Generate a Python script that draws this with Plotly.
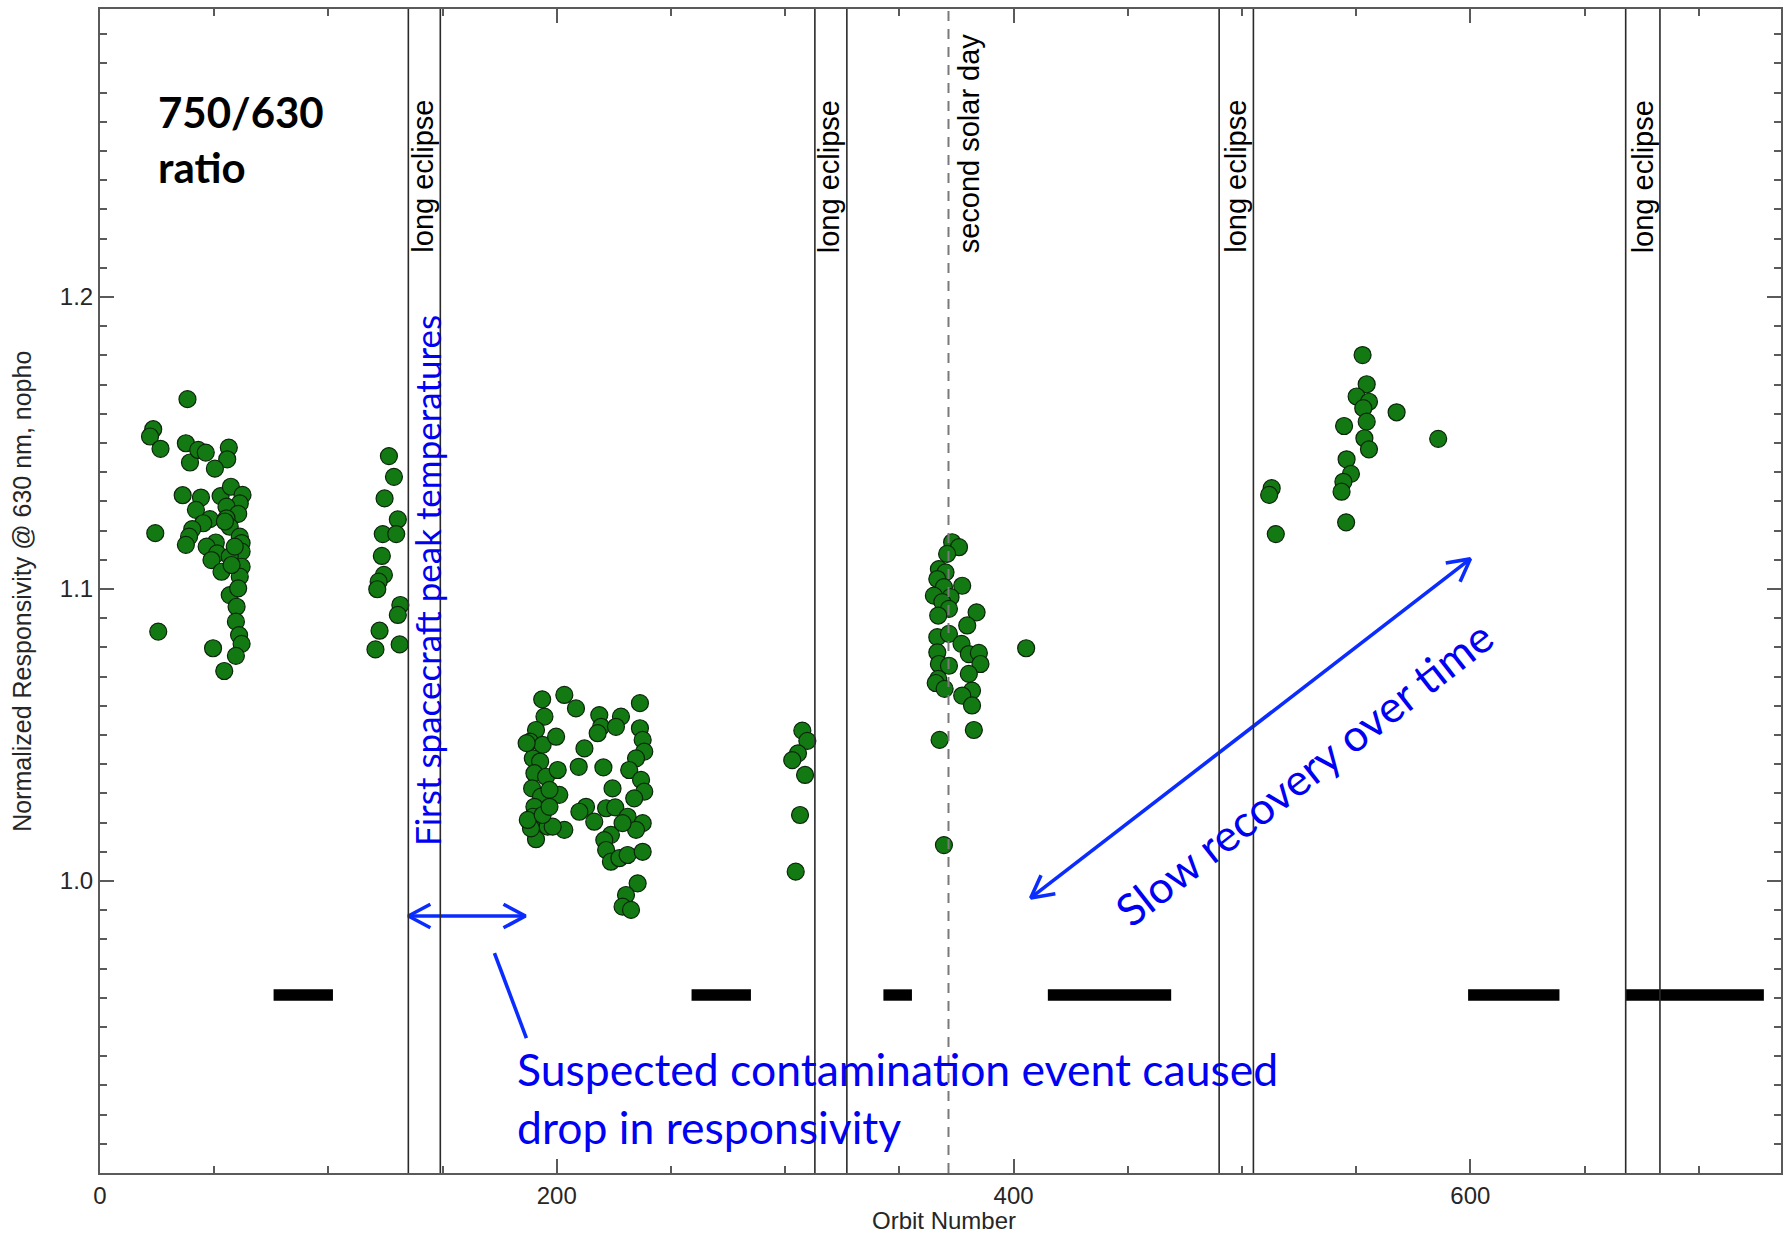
import math
import plotly.graph_objects as go

# Orbit number and normalized 750/630 responsivity ratio for each measurement
orbit = [
    38.3, 23.3, 21.9, 26.5, 37.6, 39.4, 43.0, 46.3, 56.4, 55.7, 50.3, 36.2, 44.2, 42.0,
    48.1, 45.2, 40.4, 39.0, 37.6, 24.2, 52.8, 57.3, 62.4, 61.2, 55.4, 60.5, 55.4, 56.8,
    61.2, 62.0, 62.0, 50.7, 46.7, 51.3, 48.8, 56.8, 53.2, 62.0, 61.2, 57.6, 56.8, 59.8,
    59.5, 60.9, 62.0, 59.5, 54.4, 49.5, 25.5, 60.5, 54.7, 59.0,
    126.5, 128.7, 124.6, 130.4, 123.8, 129.7, 123.4, 124.3, 122.0, 121.4, 131.5, 130.4,
    122.4, 120.6, 131.2,
    193.6, 194.6, 190.9, 188.3, 193.8, 189.5, 192.7, 190.2, 195.3, 189.2, 193.1, 190.2,
    189.5, 191.6, 190.9, 196.0, 199.7, 200.4, 201.1, 196.8, 203.3, 188.7, 198.2, 203.3,
    208.4, 212.1, 209.6, 218.6, 219.4, 217.9, 228.1, 225.9, 220.4, 224.4, 212.8, 209.9,
    216.4, 221.6, 225.6, 223.7, 220.8, 221.6, 223.7, 227.4, 231.0, 237.6, 235.4, 230.3,
    228.8, 232.5, 236.4, 236.4, 237.6, 238.3, 234.7, 231.7, 236.9, 238.3, 233.9, 231.0,
    237.6, 234.7, 228.8, 186.8, 187.3, 193.8, 196.8,
    307.5, 309.7, 305.6, 303.1, 308.7, 306.5, 304.6,
    373.1, 376.1, 370.9, 367.3, 370.2, 366.6, 377.5, 369.5, 365.1, 372.4, 368.8, 371.7,
    367.0, 383.8, 379.7, 366.6, 371.7, 377.2, 366.6, 380.4, 384.8, 385.5, 367.3, 371.7,
    380.4, 367.0, 365.9, 369.8, 381.8, 377.5, 381.8, 382.6, 367.6, 369.5, 405.5,
    552.8, 554.6, 550.2, 555.6, 553.1, 567.7, 554.6, 544.7, 553.6, 555.6, 585.9, 545.8,
    547.7, 544.4, 543.6, 545.6, 513.0, 511.9, 514.8,
]
responsivity = [
    1.1650, 1.1547, 1.1522, 1.1480, 1.1499, 1.1433, 1.1476, 1.1467, 1.1484, 1.1444, 1.1412,
    1.1321, 1.1313, 1.1271, 1.1239, 1.1225, 1.1205, 1.1179, 1.1151, 1.1191, 1.1318, 1.1350,
    1.1322, 1.1293, 1.1282, 1.1257, 1.1242, 1.1213, 1.1179, 1.1157, 1.1128, 1.1159, 1.1145,
    1.1122, 1.1099, 1.1111, 1.1059, 1.1076, 1.1042, 1.1082, 1.0979, 1.0939, 1.0888, 1.0842,
    1.0812, 1.0771, 1.0719, 1.0797, 1.0854, 1.1002, 1.1231, 1.1145,
    1.1455, 1.1384, 1.1310, 1.1238, 1.1188, 1.1188, 1.1113, 1.1048, 1.1025, 1.0999, 1.0945,
    1.0911, 1.0857, 1.0793, 1.0810,
    1.0622, 1.0563, 1.0517, 1.0477, 1.0466, 1.0420, 1.0409, 1.0369, 1.0357, 1.0317, 1.0289,
    1.0254, 1.0220, 1.0186, 1.0143, 1.0186, 1.0494, 1.0380, 1.0295, 1.0312, 1.0175, 1.0180,
    1.0186, 1.0637, 1.0591, 1.0454, 1.0391, 1.0568, 1.0528, 1.0506, 1.0563, 1.0528, 1.0389,
    1.0317, 1.0254, 1.0237, 1.0203, 1.0249, 1.0252, 1.0158, 1.0140, 1.0106, 1.0066, 1.0078,
    1.0089, 1.0100, 0.9992, 0.9952, 0.9912, 0.9901, 1.0609, 1.0523, 1.0483, 1.0443, 1.0420,
    1.0380, 1.0346, 1.0306, 1.0283, 1.0220, 1.0198, 1.0175, 1.0198, 1.0472, 1.0209, 1.0226,
    1.0254,
    1.0515, 1.0480, 1.0437, 1.0414, 1.0363, 1.0226, 1.0032,
    1.1160, 1.1143, 1.1120, 1.1068, 1.1057, 1.1034, 1.1011, 1.1006, 1.0977, 1.0972, 1.0955,
    1.0932, 1.0909, 1.0920, 1.0875, 1.0835, 1.0846, 1.0812, 1.0783, 1.0777, 1.0781, 1.0743,
    1.0743, 1.0737, 1.0709, 1.0692, 1.0678, 1.0658, 1.0652, 1.0635, 1.0601, 1.0517, 1.0483,
    1.0123, 1.0797,
    1.1801, 1.1701, 1.1659, 1.1641, 1.1619, 1.1605, 1.1573, 1.1558, 1.1516, 1.1478, 1.1514,
    1.1444, 1.1394, 1.1367, 1.1333, 1.1228, 1.1345, 1.1322, 1.1188,
]

# Long-eclipse periods (orbit at start / end) and the second solar day
eclipse_start = [135, 313, 490, 668]
eclipse_end = [149, 327, 505, 683]
solar_day_2 = 371.5

# Orbit spans with no observations, drawn as bars
gap_start = [76, 259, 343, 415, 599, 668]
gap_end = [102, 285, 355.5, 469, 639, 728.5]
gap_low, gap_high = 0.9590, 0.9629

x_ticks = [0, 200, 400, 600]
x_tick_text = ["0", "200", "400", "600"]
y_ticks = [1.0, 1.1, 1.2]
y_tick_text = ["1.0", "1.1", "1.2"]

# Annotation arrows: (start, end) in data coordinates
span_arrow = [(135.0, 0.988), (186.3, 0.988)]
pointer_line = [(172.7, 0.9753), (186.7, 0.9462)]
recovery_arrow = [(407.5, 0.9942), (600.0, 1.1103)]

X_RANGE = [0, 736]
Y_RANGE = [0.9, 1.2986]
W, H = 1783, 1236
MARGIN = dict(l=100, r=0, t=9, b=63)

PX_X = (W - MARGIN["l"] - MARGIN["r"]) / (X_RANGE[1] - X_RANGE[0])
PX_Y = (H - MARGIN["t"] - MARGIN["b"]) / (Y_RANGE[1] - Y_RANGE[0])

AXIS = "#5a5a5a"
BLUE_TEXT = "#0000f2"
BLUE_LINE = "#0a2cff"
SANS = "Liberation Sans, Arial, sans-serif"
TICK_FONT = dict(family=SANS, size=24, color="#262626")
NOTE_FONT = "Lato, Open Sans, sans-serif"
LABEL_BASE = 1.2144  # where the vertical event labels start


def chevron(tip, tail, arm=25, spread=28):
    """Open V arrowhead at `tip`, opening back toward `tail`."""
    dx = (tail[0] - tip[0]) * PX_X
    dy = (tail[1] - tip[1]) * PX_Y
    n = math.hypot(dx, dy)
    ux, uy = dx / n, dy / n
    xs, ys = [], []
    for s in (1, -1):
        a = math.radians(spread * s)
        rx = ux * math.cos(a) - uy * math.sin(a)
        ry = ux * math.sin(a) + uy * math.cos(a)
        xs.append(tip[0] + rx * arm / PX_X)
        ys.append(tip[1] + ry * arm / PX_Y)
    return [xs[0], tip[0], xs[1]], [ys[0], tip[1], ys[1]]


fig = go.Figure()

# Data-gap bars
for a, b in zip(gap_start, gap_end):
    fig.add_shape(type="rect", xref="x", yref="y", x0=a, x1=b, y0=gap_low, y1=gap_high,
                  fillcolor="black", line=dict(width=0), layer="below")

# Long eclipse boundaries
for a, b in zip(eclipse_start, eclipse_end):
    for xv in (a, b):
        fig.add_shape(type="line", xref="x", yref="paper", x0=xv, x1=xv, y0=0, y1=1,
                      line=dict(color="#2a2a2a", width=1.6))
    fig.add_annotation(x=b, y=LABEL_BASE, xref="x", yref="y", text="long eclipse",
                       textangle=-90, showarrow=False, xanchor="right", yanchor="bottom",
                       xshift=1, font=dict(family=SANS, size=29, color="black"))

fig.add_shape(type="line", xref="x", yref="paper", x0=solar_day_2, x1=solar_day_2, y0=0, y1=1,
              line=dict(color="#7a7a7a", width=2, dash="10px,8px"))
fig.add_annotation(x=solar_day_2, y=LABEL_BASE, xref="x", yref="y", text="second solar day",
                   textangle=-90, showarrow=False, xanchor="left", yanchor="bottom",
                   xshift=2, font=dict(family=SANS, size=29, color="black"))

# Measurements
fig.add_trace(go.Scatter(
    x=orbit, y=responsivity, mode="markers",
    marker=dict(size=17, color="#137a13", line=dict(color="#0b260b", width=1.2)),
    showlegend=False, hoverinfo="x+y",
))

# Blue arrows
def add_arrow(seg, heads):
    (x0, y0), (x1, y1) = seg
    xs, ys = [x0, x1], [y0, y1]
    if "end" in heads:
        cx, cy = chevron((x1, y1), (x0, y0))
        xs += [None] + cx
        ys += [None] + cy
    if "start" in heads:
        cx, cy = chevron((x0, y0), (x1, y1))
        xs += [None] + cx
        ys += [None] + cy
    fig.add_trace(go.Scatter(x=xs, y=ys, mode="lines",
                             line=dict(color=BLUE_LINE, width=3.6),
                             showlegend=False, hoverinfo="skip"))

add_arrow(span_arrow, ("start", "end"))
add_arrow(pointer_line, ())
add_arrow(recovery_arrow, ("start", "end"))

# Text notes
fig.add_annotation(x=24.5, y=1.254, xref="x", yref="y", text="<b>750/630<br>ratio</b>",
                   showarrow=False, xanchor="left", yanchor="middle", align="left",
                   font=dict(family=NOTE_FONT, size=42, color="black"))
fig.add_annotation(x=143.4, y=1.1029, xref="x", yref="y", text="First spacecraft peak temperatures",
                   textangle=-90, showarrow=False, xanchor="center", yanchor="middle",
                   font=dict(family=NOTE_FONT, size=35, color=BLUE_TEXT))
fig.add_annotation(x=181.9, y=0.9257, xref="x", yref="y",
                   text="Suspected contamination event caused<br>drop in responsivity",
                   showarrow=False, xanchor="left", yanchor="middle", align="left",
                   font=dict(family=NOTE_FONT, size=44.5, color=BLUE_TEXT))
fig.add_annotation(x=526.9, y=1.037, xref="x", yref="y", text="Slow recovery over time",
                   textangle=-38, showarrow=False, xanchor="center", yanchor="middle",
                   font=dict(family=NOTE_FONT, size=44, color=BLUE_TEXT))

# Axis titles
fig.add_annotation(x=0.502, y=-0.0412, xref="paper", yref="paper", text="Orbit Number",
                   showarrow=False, xanchor="center", yanchor="middle", font=TICK_FONT)
fig.add_annotation(x=-0.0465, y=0.5, xref="paper", yref="paper",
                   text="Normalized Responsivity @ 630 nm, nopho", textangle=-90,
                   showarrow=False, xanchor="center", yanchor="middle",
                   font=dict(family=SANS, size=25, color="#262626"))

axis_common = dict(showline=True, linecolor=AXIS, linewidth=2, mirror="allticks",
                   ticks="inside", tickcolor=AXIS, tickwidth=1.5, showgrid=False,
                   zeroline=False, tickfont=TICK_FONT)

fig.update_xaxes(range=X_RANGE, tickvals=x_ticks, ticktext=x_tick_text, ticklen=14,
                 minor=dict(ticks="inside", ticklen=7, dtick=50, tick0=0,
                            tickcolor=AXIS, tickwidth=1.5),
                 **axis_common)
fig.update_yaxes(range=Y_RANGE, tickvals=y_ticks, ticktext=y_tick_text, ticklen=14,
                 minor=dict(ticks="inside", ticklen=7, dtick=0.01, tick0=0.9,
                            tickcolor=AXIS, tickwidth=1.5),
                 **axis_common)

fig.update_layout(width=W, height=H, margin=MARGIN, plot_bgcolor="white",
                  paper_bgcolor="white", showlegend=False)

fig.write_html("out.html")
